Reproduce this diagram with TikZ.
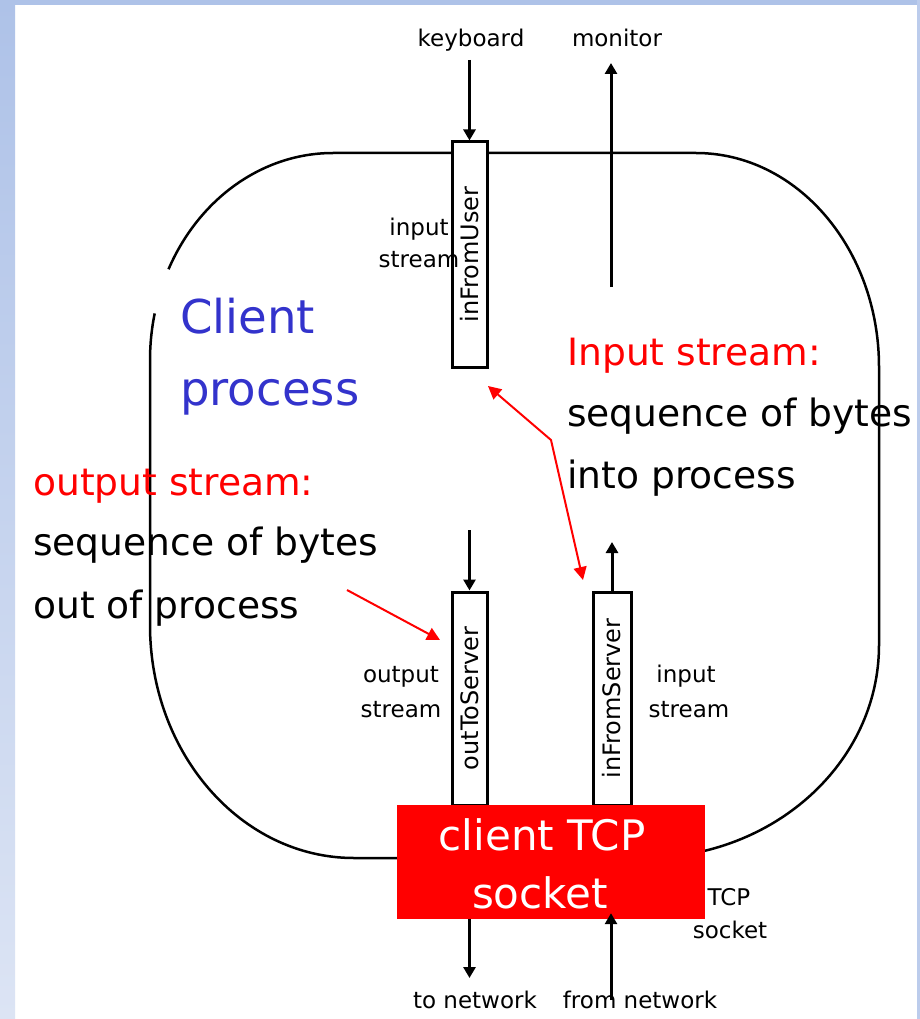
\documentclass[tikz,border=0pt]{standalone}
\usepackage{fontspec}
\setmainfont{DejaVu Sans}
\usetikzlibrary{arrows.meta,calc}
\definecolor{bandtop}{RGB}{174,194,232}
\definecolor{bandbot}{RGB}{220,228,244}
\definecolor{procblue}{RGB}{51,51,204}
\tikzset{
  outline/.style={line width=2.5pt},
  streambox/.style={draw, line width=3pt, fill=white, inner sep=0pt, font=\fontsize{24}{28}\selectfont},
  flowarrow/.style={line width=3pt, -{Triangle[width=12pt,length=11pt]}},
  notearrow/.style={red, line width=2pt, -{Triangle[width=13pt,length=13pt]}},
  smalltext/.style={inner sep=0pt, anchor=base, font=\fontsize{23}{27}\selectfont},
  bigtext/.style={inner sep=0pt, anchor=base west, font=\fontsize{37.6}{45}\selectfont},
  titletext/.style={inner sep=0pt, anchor=base west, text=procblue, font=\fontsize{46.6}{55}\selectfont},
  socktext/.style={inner sep=0pt, anchor=base, text=white, font=\fontsize{42}{50}\selectfont},
}
\begin{document}
\begin{tikzpicture}[x=1pt,y=-1pt]
\useasboundingbox (0,0) rectangle (920,1019);
% background
\fill[white] (0,0) rectangle (920,1019);
\shade[top color=bandtop, bottom color=bandbot] (0,0) rectangle (15,1019);
\fill[bandtop] (0,0) rectangle (920,5);
\fill[bandtop!70!bandbot] (917,0) rectangle (920,1019);

% process outline (with a gap near the title)
\draw[outline] (333,153) arc[start angle=270, end angle=206, x radius=183, y radius=207];
\draw[outline] (154.7,313.4) arc[start angle=193, end angle=180, x radius=183, y radius=207]
  -- (150,625) arc[start angle=180, end angle=90, x radius=204, y radius=233]
  -- (644,858) arc[start angle=90, end angle=0, x radius=235, y radius=213]
  -- (879,367) arc[start angle=0, end angle=-90, x radius=183, y radius=214]
  -- (333,153);

% stream boxes
\node[streambox, minimum width=35pt, minimum height=225pt] (ifu) at (469.5,254.5) {\rotatebox{90}{inFromUser}};
\node[streambox, minimum width=35pt, minimum height=213pt] (ots) at (469.5,698.5) {\rotatebox{90}{outToServer}};
\node[streambox, minimum width=38pt, minimum height=213pt] (ifs) at (612,698.5) {\rotatebox{90}{inFromServer}};

% flow arrows
\coordinate (kbtop) at (469.5,60);
\coordinate (monlow) at (611,287);
\coordinate (montop) at (611,63);
\coordinate (otsin) at (469.5,530);
\coordinate (ifsout) at (612,542);
\draw[flowarrow] (kbtop) -- (ifu.north);
\draw[flowarrow] (monlow) -- (montop);
\draw[flowarrow] (otsin) -- (ots.north);
\draw[flowarrow] (ifs.north) -- (ifsout);

% socket
\node[fill=red, draw=none, minimum width=308pt, minimum height=114pt, inner sep=0pt] (sock) at (551,862) {};
\node[socktext] (sockl1) at (542,850) {client TCP};
\node[socktext] (sockl2) at (540,908) {socket};

\coordinate (tonet) at (469.5,978);
\coordinate (fromnet) at (611,1000);
\draw[flowarrow] (sock.south -| ots) -- (tonet);
\draw[flowarrow] (fromnet) -- ($(sock.south -| fromnet)+(0,-6)$);

% small labels
\node[smalltext] (kbl) at (471,47) {keyboard};
\node[smalltext] (monl) at (617,47) {monitor};
\node[smalltext] (in1) at (419,235) {input};
\node[smalltext] (st1) at (419,267) {stream};
\node[smalltext] (out2) at (401,682) {output};
\node[smalltext] (st2) at (401,717) {stream};
\node[smalltext] (in3) at (686,682) {input};
\node[smalltext] (st3) at (689,717) {stream};
\node[smalltext] (tcpl) at (729,905) {TCP};
\node[smalltext] (skl) at (730,938) {socket};
\node[smalltext] (tonl) at (475,1008) {to network};
\node[smalltext] (fromnl) at (640,1008) {from network};

% big texts
\node[titletext] (cl1) at (180,333) {Client};
\node[titletext] (cl2) at (180,405) {process};
\node[bigtext, text=red] (is1) at (567,365) {Input stream:};
\node[bigtext] (is2) at (567,426) {sequence of bytes};
\node[bigtext] (is3) at (567,488) {into process};
\node[bigtext, text=red] (os1) at (33,495) {output stream:};
\node[bigtext] (os2) at (33,555) {sequence of bytes};
\node[bigtext] (os3) at (33,618) {out of process};

% annotation arrows
\coordinate (oa1) at (347,590);
\coordinate (oa2) at (440,640);
\coordinate (ia1) at (488,386);
\coordinate (ia2) at (551,440);
\coordinate (ia3) at (583,580);
\draw[notearrow] (oa1) -- (oa2);
\draw[notearrow, {Triangle[width=13pt,length=13pt]}-{Triangle[width=13pt,length=13pt]}] (ia1) -- (ia2) -- (ia3);
\end{tikzpicture}
\end{document}
